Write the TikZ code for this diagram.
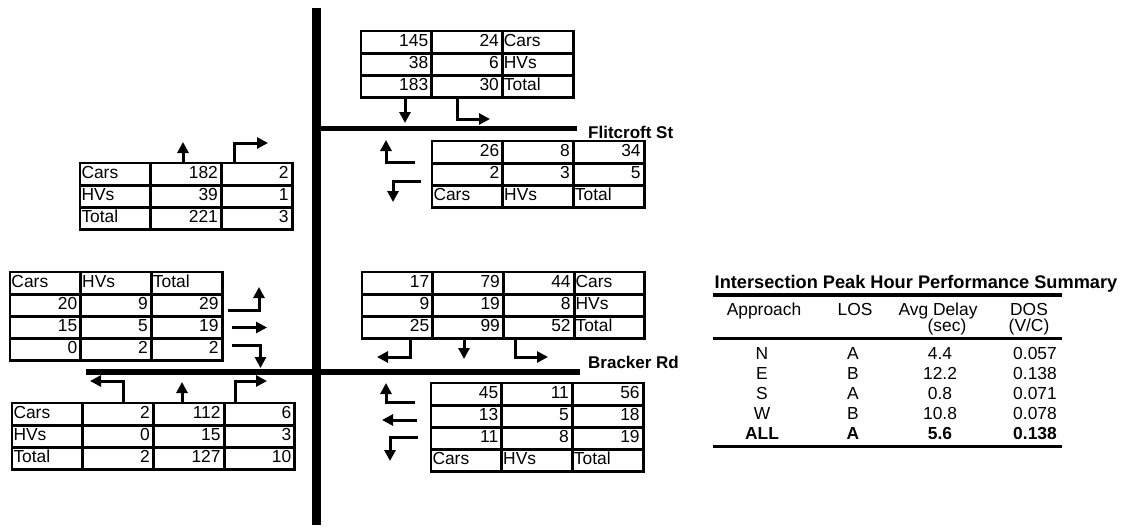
\documentclass[tikz,border=0pt]{standalone}
\usepackage{fontspec}
\setmainfont{Liberation Sans}
\usetikzlibrary{arrows.meta,matrix}
\newcommand{\sheetfont}{\fontsize{17.4}{20}\selectfont}

\begin{document}
\begin{tikzpicture}[x=1pt,y=-1pt,every node/.style={font=\sheetfont},
  cell/.style={draw,line width=2.8pt,outer sep=0pt,inner xsep=3.5pt,inner ysep=1pt,minimum height=22.2pt,text width=63.7pt,text height=12pt,text depth=4pt,align=right},
  lab/.style={cell,inner xsep=1.5pt,text width=67.7pt,align=left},
  tab/.style={matrix of nodes,anchor=north west,xshift=-1.4pt,yshift=1.4pt,inner sep=0pt,outer sep=0pt,column sep=-2.8pt,row sep=-2.8pt,nodes={cell}},
  move/.style={line width=3pt,-{Triangle[length=11pt,width=11pt]}},
  street/.style={anchor=base west,inner sep=0pt,font=\fontsize{17}{20}\selectfont\bfseries}]
\useasboundingbox (0,0) rectangle (1121,530);

% roads
\draw[line width=9pt] (316.5,8) -- (316.5,525);
\draw[line width=5.5pt] (316.5,128.5) -- (577,128.5);
\draw[line width=6.5pt] (86,372) -- (580,372);
\node[street] (flit) at (588,138) {Flitcroft St};
\node[street] (brack) at (588,368) {Bracker Rd};

% Flitcroft St counts
\matrix (fnorth) [tab,column 3/.style={nodes={lab}}] at (361,31) {
145 & 24 & Cars \\
38 & 6 & HVs \\
183 & 30 & Total \\};
\matrix (fsouth) [tab,column 1/.style={nodes={lab}}] at (80,163) {
Cars & 182 & 2 \\
HVs & 39 & 1 \\
Total & 221 & 3 \\};
\matrix (feast) [tab,row 3/.style={nodes={lab}}] at (432,141) {
26 & 8 & 34 \\
2 & 3 & 5 \\
Cars & HVs & Total \\};
\draw[move] (405,98) -- (405,123);
\draw[move] (457,98) -- (457,119) -- (490,119);
\draw[move] (183,163) -- (183,142);
\draw[move] (234,163) -- (234,143) -- (268,143);
\draw[move] (415,162) -- (386,162) -- (386,140);
\draw[move] (421,181) -- (393,181) -- (393,202);

% Bracker Rd counts
\matrix (bwest) [tab,row 1/.style={nodes={lab}}] at (10,272) {
Cars & HVs & Total \\
20 & 9 & 29 \\
15 & 5 & 19 \\
0 & 2 & 2 \\};
\matrix (bnorth) [tab,column 4/.style={nodes={lab}}] at (362,272) {
17 & 79 & 44 & Cars \\
9 & 19 & 8 & HVs \\
25 & 99 & 52 & Total \\};
\matrix (bsouth) [tab,column 1/.style={nodes={lab}}] at (12,403) {
Cars & 2 & 112 & 6 \\
HVs & 0 & 15 & 3 \\
Total & 2 & 127 & 10 \\};
\matrix (beast) [tab,row 4/.style={nodes={lab}}] at (431,383) {
45 & 11 & 56 \\
13 & 5 & 18 \\
11 & 8 & 19 \\
Cars & HVs & Total \\};
\draw[move] (228,310) -- (259,310) -- (259,287);
\draw[move] (232,327.5) -- (267,327.5);
\draw[move] (232,345.5) -- (260.5,345.5) -- (260.5,368);
\draw[move] (410,339) -- (410,357) -- (377,357);
\draw[move] (464,339) -- (464,359);
\draw[move] (515,339) -- (515,357) -- (548,357);
\draw[move] (123,403) -- (123,381) -- (90,381);
\draw[move] (182,403) -- (182,382);
\draw[move] (235,403) -- (235,381) -- (267,381);
\draw[move] (415,402) -- (386,402) -- (386,383);
\draw[move] (417,420) -- (382,420);
\draw[move] (418,437) -- (390,437) -- (390,461);

% performance summary
\node[anchor=base,font=\fontsize{18.2}{20}\selectfont\bfseries] (perf) at (916,288) {Intersection Peak Hour Performance Summary};
\draw[line width=3.5pt] (713,295) -- (1062,295);
\node[anchor=base] (happ) at (764,315) {Approach};
\node[anchor=base] (hlos) at (855,315) {LOS};
\node[anchor=base] (hdel) at (938,315) {Avg Delay};
\node[anchor=base] (hdos) at (1029,315) {DOS};
\node[anchor=base] (hsec) at (947,331) {(sec)};
\node[anchor=base] (hvc) at (1029,331) {(V/C)};
\draw[line width=3pt] (713,338.5) -- (1062,338.5);
\foreach \ap/\los/\del/\dos [count=\i from 0] in {N/A/4.4/0.057,E/B/12.2/0.138,S/A/0.8/0.071,W/B/10.8/0.078}{
  \node[anchor=base] (ap\i) at (762,359+20*\i) {\ap};
  \node[anchor=base] (los\i) at (853,359+20*\i) {\los};
  \node[anchor=base] (del\i) at (940,359+20*\i) {\del};
  \node[anchor=base] (dos\i) at (1035,359+20*\i) {\dos};
}
\node[anchor=base,font=\sheetfont\bfseries] (apall) at (762,439) {ALL};
\node[anchor=base,font=\sheetfont\bfseries] (losall) at (853,439) {A};
\node[anchor=base,font=\sheetfont\bfseries] (delall) at (940,439) {5.6};
\node[anchor=base,font=\sheetfont\bfseries] (dosall) at (1035,439) {0.138};
\draw[line width=3pt] (713,446) -- (1062,446);
\end{tikzpicture}
\end{document}
